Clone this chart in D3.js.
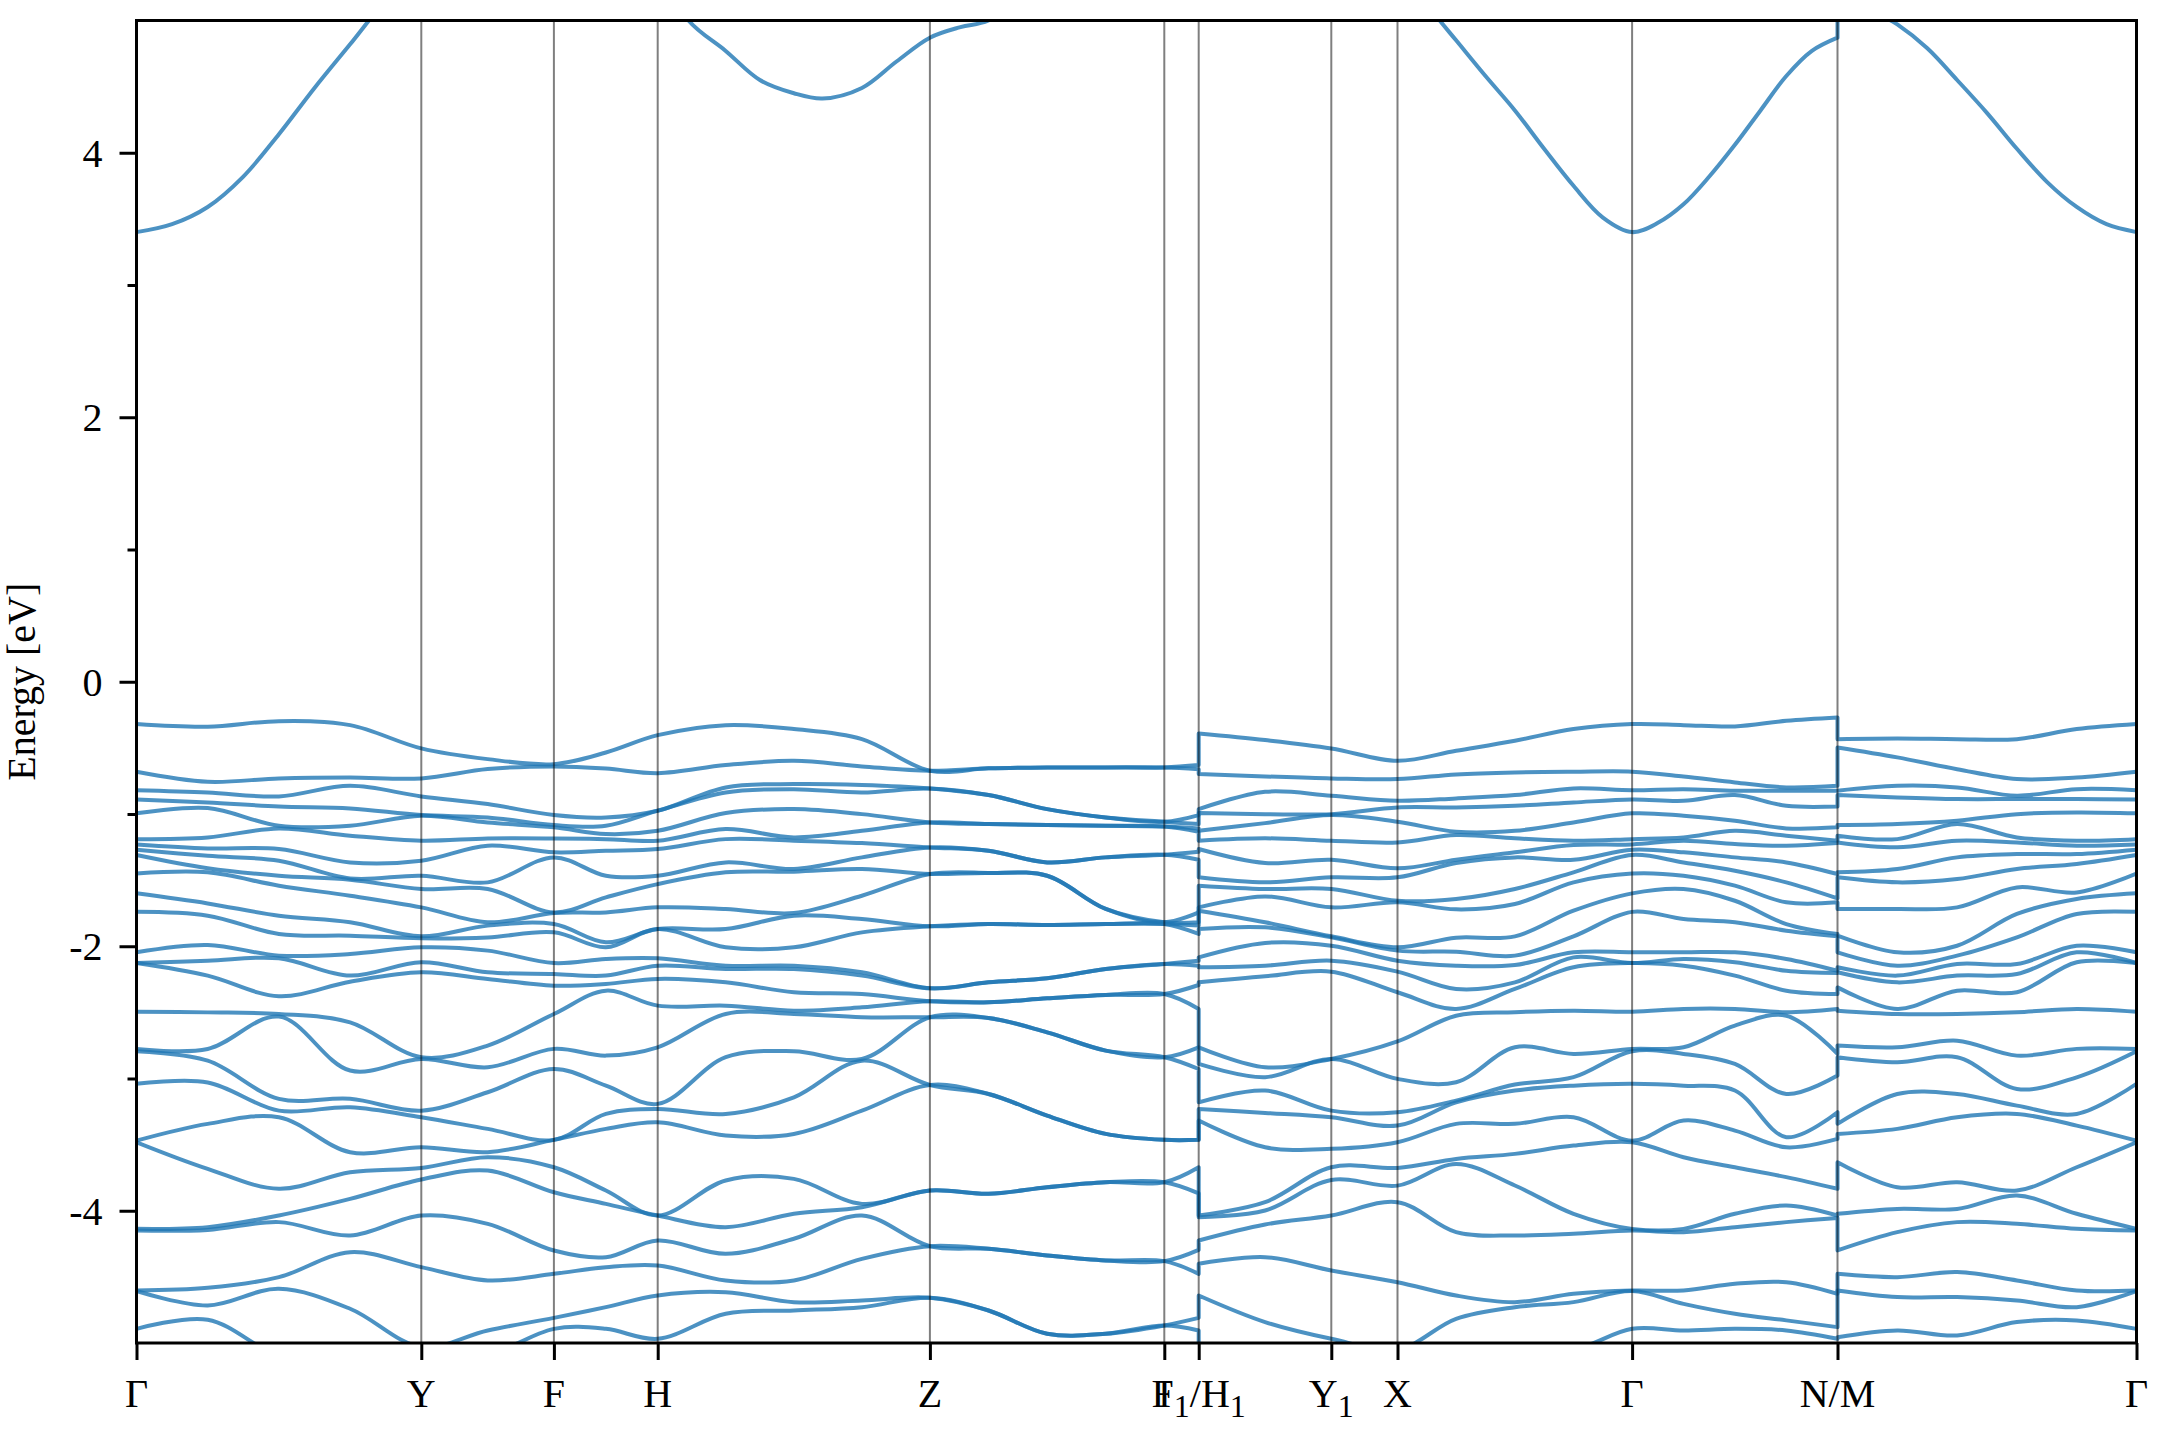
<!DOCTYPE html>
<html><head><meta charset="utf-8">
<script src="https://cdn.jsdelivr.net/npm/d3@7"></script>
<style>html,body{margin:0;padding:0;background:#fff;} svg{display:block;}</style>
</head><body>
<svg id="chart" width="2160" height="1440"></svg>
<script>
// ---- high-symmetry path ----
const kTicks = [0, 0.1424, 0.2087, 0.2606, 0.3967, 0.5139, 0.5311, 0.5974, 0.6305, 0.7478, 0.8505, 1.0];
const tickLabels = ["Γ", "Y", "F", "H", "Z", "I", "F_1/H_1", "Y_1", "X", "Γ", "N/M", "Γ"];
const yMajor = [-4, -2, 0, 2, 4];
const yMinor = [-3, -1, 1, 3];

// k samples of the three continuous branches
const kA = [0, 0.0356, 0.0712, 0.1068, 0.1424, 0.1756, 0.2087, 0.2347, 0.2606, 0.2946, 0.3287, 0.3627, 0.3967, 0.4260, 0.4553, 0.4846, 0.5139, 0.5311];
const kB = [0.5311, 0.5643, 0.5974, 0.6305, 0.6598, 0.6892, 0.7185, 0.7478, 0.7735, 0.7992, 0.8249, 0.8505];
const kC = [0.8505, 0.8804, 0.9103, 0.9402, 0.9701, 1.0];

// valence band energies (eV), one list per k sample, bands from top to bottom
const gammaE = [-0.32, -0.68, -0.82, -0.89, -0.995, -1.19, -1.23, -1.27, -1.31, -1.45, -1.60, -1.74, -2.045, -2.127, -2.127, -2.495, -2.777, -2.794, -3.04, -3.47, -3.482, -4.137, -4.15, -4.603, -4.607, -4.893];

const valA = [
  gammaE,
  [-0.34, -0.756, -0.837, -0.913, -0.955, -1.177, -1.26, -1.316, -1.41, -1.441, -1.676, -1.769, -1.99, -2.109, -2.222, -2.5, -2.777, -2.865, -3.03, -3.343, -3.683, -4.124, -4.145, -4.583, -4.716, -4.824],
  [-0.298, -0.731, -0.867, -0.943, -1.089, -1.109, -1.265, -1.353, -1.467, -1.542, -1.769, -1.907, -2.071, -2.091, -2.378, -2.512, -2.532, -3.154, -3.243, -3.293, -3.834, -4.036, -4.086, -4.502, -4.59, -5.1],
  [-0.328, -0.724, -0.787, -0.958, -1.089, -1.164, -1.366, -1.487, -1.497, -1.618, -1.819, -1.92, -2.059, -2.222, -2.268, -2.575, -2.94, -3.154, -3.217, -3.557, -3.709, -3.91, -4.187, -4.313, -4.741, -5.2],
  [-0.504, -0.731, -0.867, -1.008, -1.013, -1.202, -1.353, -1.467, -1.567, -1.706, -1.925, -1.94, -2.008, -2.121, -2.197, -2.839, -2.852, -3.243, -3.293, -3.52, -3.676, -3.764, -4.036, -4.426, -5.03, -5.2],
  [-0.585, -0.66, -0.925, -1.026, -1.064, -1.185, -1.24, -1.517, -1.567, -1.819, -1.844, -1.933, -2.033, -2.197, -2.247, -2.751, -2.915, -3.104, -3.381, -3.557, -3.595, -3.696, -4.099, -4.527, -4.905, -5.1],
  [-0.623, -0.64, -1.008, -1.084, -1.101, -1.185, -1.29, -1.328, -1.744, -1.749, -1.832, -1.895, -2.127, -2.21, -2.298, -2.512, -2.776, -2.928, -3.464, -3.464, -3.671, -3.86, -4.301, -4.477, -4.81, -4.893],
  [-0.535, -0.656, -1.026, -1.089, -1.152, -1.19, -1.278, -1.467, -1.63, -1.744, -1.97, -2.008, -2.096, -2.222, -2.285, -2.336, -2.827, -3.054, -3.268, -3.381, -3.847, -3.948, -4.351, -4.427, -4.729, -4.893],
  [-0.404, -0.691, -0.975, -0.975, -1.127, -1.202, -1.265, -1.467, -1.53, -1.706, -1.87, -1.87, -2.091, -2.147, -2.247, -2.449, -2.764, -3.192, -3.23, -3.331, -4.036, -4.036, -4.225, -4.414, -4.641, -4.968],
  [-0.328, -0.63, -0.799, -0.837, -0.993, -1.114, -1.19, -1.366, -1.441, -1.718, -1.87, -2.008, -2.147, -2.172, -2.273, -2.449, -2.512, -2.839, -3.268, -3.431, -3.771, -4.124, -4.326, -4.527, -4.616, -4.779],
  [-0.358, -0.598, -0.774, -0.812, -0.963, -1.177, -1.202, -1.416, -1.436, -1.749, -1.769, -2.008, -2.147, -2.172, -2.348, -2.487, -2.512, -2.794, -3.142, -3.419, -3.759, -4.023, -4.212, -4.527, -4.691, -4.754],
  [-0.434, -0.64, -0.781, -0.837, -1.001, -1.127, -1.22, -1.328, -1.416, -1.618, -1.794, -1.895, -2.197, -2.222, -2.361, -2.462, -2.537, -2.852, -2.865, -3.243, -3.948, -3.973, -4.036, -4.364, -4.678, -4.729],
  [-0.673, -0.673, -0.807, -0.807, -1.064, -1.064, -1.253, -1.253, -1.454, -1.454, -1.849, -1.849, -2.318, -2.318, -2.416, -2.416, -2.537, -2.537, -3.049, -3.049, -3.847, -3.847, -4.268, -4.268, -4.658, -4.658],
  [-0.655, -0.655, -0.857, -0.857, -1.076, -1.076, -1.278, -1.278, -1.446, -1.446, -1.832, -1.832, -2.273, -2.273, -2.424, -2.424, -2.542, -2.542, -3.117, -3.117, -3.872, -3.872, -4.288, -4.288, -4.754, -4.754],
  [-0.648, -0.648, -0.963, -0.963, -1.084, -1.084, -1.366, -1.366, -1.467, -1.467, -1.839, -1.839, -2.242, -2.242, -2.394, -2.394, -2.651, -2.651, -3.28, -3.28, -3.822, -3.822, -4.338, -4.338, -4.93, -4.93],
  [-0.648, -0.648, -1.026, -1.026, -1.089, -1.089, -1.328, -1.328, -1.718, -1.718, -1.832, -1.832, -2.172, -2.172, -2.368, -2.368, -2.789, -2.789, -3.419, -3.419, -3.784, -3.784, -4.376, -4.376, -4.93, -4.93],
  [-0.648, -0.648, -1.059, -1.059, -1.094, -1.094, -1.308, -1.308, -1.819, -1.819, -1.832, -1.832, -2.134, -2.134, -2.361, -2.361, -2.839, -2.839, -3.464, -3.464, -3.784, -3.784, -4.381, -4.381, -4.867, -4.867],
  [-0.63, -0.661, -1.008, -1.076, -1.109, -1.134, -1.285, -1.346, -1.744, -1.819, -1.844, -1.907, -2.109, -2.147, -2.293, -2.474, -2.764, -2.928, -3.464, -3.464, -3.671, -3.868, -4.296, -4.477, -4.81, -4.905]
];

const valB = [
  [-0.391, -0.698, -0.963, -0.993, -1.127, -1.202, -1.265, -1.479, -1.542, -1.706, -1.731, -1.869, -2.084, -2.159, -2.273, -2.764, -2.89, -3.18, -3.23, -3.318, -4.036, -4.049, -4.225, -4.401, -4.641, -5.1],
  [-0.441, -0.716, -0.832, -1.001, -1.069, -1.184, -1.371, -1.517, -1.567, -1.623, -1.819, -1.857, -1.975, -2.147, -2.227, -2.915, -2.99, -3.091, -3.26, -3.52, -3.935, -3.998, -4.104, -4.351, -4.842, -5.1],
  [-0.504, -0.731, -0.862, -1.001, -1.008, -1.202, -1.346, -1.479, -1.567, -1.706, -1.925, -1.933, -1.996, -2.109, -2.192, -2.852, -2.852, -3.243, -3.293, -3.532, -3.671, -3.767, -4.036, -4.452, -4.968, -5.2],
  [-0.598, -0.736, -0.9, -0.95, -1.059, -1.215, -1.411, -1.479, -1.656, -1.668, -2.008, -2.033, -2.109, -2.192, -2.348, -2.719, -3.003, -3.255, -3.356, -3.482, -3.676, -3.81, -3.935, -4.54, -5.05, -5.2],
  [-0.522, -0.701, -0.882, -0.95, -1.134, -1.159, -1.346, -1.371, -1.643, -1.721, -1.935, -2.041, -2.147, -2.323, -2.474, -2.525, -3.028, -3.167, -3.18, -3.343, -3.608, -3.646, -4.162, -4.641, -4.817, -5.05],
  [-0.446, -0.686, -0.857, -0.938, -1.127, -1.184, -1.29, -1.328, -1.567, -1.681, -1.925, -2.071, -2.142, -2.273, -2.323, -2.499, -2.764, -3.046, -3.091, -3.343, -3.57, -3.809, -4.187, -4.691, -4.729, -5.05],
  [-0.358, -0.681, -0.807, -0.913, -1.064, -1.202, -1.235, -1.346, -1.441, -1.517, -1.731, -1.925, -2.046, -2.084, -2.159, -2.487, -2.814, -2.99, -3.054, -3.293, -3.507, -4.023, -4.174, -4.628, -4.691, -5.05],
  gammaE,
  [-0.328, -0.716, -0.812, -0.9, -1.013, -1.177, -1.202, -1.29, -1.366, -1.467, -1.567, -1.794, -2.046, -2.096, -2.147, -2.474, -2.764, -2.814, -3.054, -3.318, -3.595, -4.137, -4.162, -4.603, -4.704, -4.905],
  [-0.338, -0.761, -0.824, -0.857, -1.051, -1.127, -1.227, -1.328, -1.429, -1.542, -1.656, -1.819, -2.046, -2.121, -2.222, -2.474, -2.6, -2.89, -3.091, -3.394, -3.671, -4.023, -4.124, -4.552, -4.779, -4.893],
  [-0.295, -0.799, -0.824, -0.938, -1.109, -1.164, -1.24, -1.366, -1.517, -1.668, -1.832, -1.882, -2.096, -2.185, -2.336, -2.499, -2.525, -3.117, -3.444, -3.52, -3.746, -3.96, -4.086, -4.54, -4.829, -4.905],
  [-0.27, -0.787, -0.824, -0.943, -1.101, -1.202, -1.22, -1.454, -1.638, -1.668, -1.907, -1.925, -2.185, -2.202, -2.361, -2.474, -2.814, -2.978, -3.255, -3.457, -3.834, -4.036, -4.054, -4.628, -4.88, -4.968]
];

const valC = [
  [-0.434, -0.497, -0.824, -0.857, -1.084, -1.164, -1.215, -1.441, -1.479, -1.718, -1.92, -2.046, -2.159, -2.197, -2.311, -2.487, -2.751, -2.839, -3.343, -3.419, -3.633, -4.023, -4.3, -4.477, -4.603, -4.956],
  [-0.429, -0.572, -0.787, -0.875, -1.076, -1.19, -1.252, -1.416, -1.517, -1.718, -2.046, -2.147, -2.222, -2.273, -2.474, -2.512, -2.764, -2.877, -3.117, -3.381, -3.822, -3.986, -4.162, -4.502, -4.653, -4.905],
  [-0.434, -0.661, -0.799, -0.887, -1.051, -1.076, -1.202, -1.328, -1.492, -1.706, -1.996, -2.071, -2.134, -2.222, -2.336, -2.512, -2.714, -2.839, -3.117, -3.293, -3.784, -3.986, -4.086, -4.464, -4.653, -4.943],
  [-0.434, -0.736, -0.862, -0.887, -1.001, -1.177, -1.215, -1.303, -1.416, -1.555, -1.756, -1.933, -2.134, -2.21, -2.348, -2.499, -2.827, -3.079, -3.205, -3.268, -3.847, -3.885, -4.099, -4.527, -4.678, -4.842],
  [-0.358, -0.724, -0.812, -0.887, -0.988, -1.202, -1.24, -1.303, -1.378, -1.593, -1.643, -1.756, -1.996, -2.046, -2.121, -2.474, -2.776, -2.991, -3.268, -3.356, -3.671, -4.023, -4.137, -4.603, -4.729, -4.829],
  gammaE
];

// lowest conduction band
const condKA = [0, 0.0178, 0.0356, 0.0534, 0.0712, 0.089, 0.1068, 0.1246, 0.1424, 0.2087, 0.2606, 0.276, 0.2946, 0.3117, 0.3287, 0.343, 0.3627, 0.38, 0.3967, 0.412, 0.426, 0.4553, 0.5311];
const condEA = [3.4, 3.46, 3.59, 3.82, 4.14, 4.49, 4.82, 5.15, 5.4, 5.8, 5.4, 5.0, 4.77, 4.55, 4.45, 4.41, 4.49, 4.69, 4.87, 4.95, 5.0, 5.3, 5.8];
const condKB = [0.5311, 0.5974, 0.6305, 0.6516, 0.6598, 0.6745, 0.6892, 0.7038, 0.7185, 0.7332, 0.7478, 0.7607, 0.7735, 0.7864, 0.7992, 0.812, 0.8249, 0.8377, 0.8505];
const condEB = [6.0, 5.9, 5.4, 5.0, 4.85, 4.58, 4.32, 4.03, 3.75, 3.51, 3.4, 3.47, 3.61, 3.82, 4.06, 4.32, 4.58, 4.77, 4.87];
const condKC = [0.8505, 0.8654, 0.8804, 0.8954, 0.9103, 0.9253, 0.9402, 0.9552, 0.9701, 0.985, 1.0];
const condEC = [5.3, 5.1, 4.97, 4.79, 4.55, 4.30, 4.03, 3.78, 3.59, 3.46, 3.4];

// ---- drawing ----
const FONT = "'Liberation Serif','Times New Roman',Times,serif";
const svg = d3.select("#chart");
const plot = {left: 136.5, right: 2136.5, top: 20.5, bottom: 1343};
const x = d3.scaleLinear().domain([0, 1]).range([plot.left, plot.right]);
const y = d3.scaleLinear().domain([-5, 5]).range([plot.bottom, plot.top]);

svg.append("rect").attr("width", 2160).attr("height", 1440).attr("fill", "#fff");
svg.append("defs").append("clipPath").attr("id", "clip")
  .append("rect").attr("x", plot.left).attr("y", plot.top)
  .attr("width", plot.right - plot.left).attr("height", plot.bottom - plot.top);

const line = d3.line().x(d => x(d[0])).y(d => y(d[1])).curve(d3.curveCatmullRom.alpha(0.5));
function joinBranches(branches) {
  return branches.map((pts, i) => { const s = line(pts); return i ? s.replace(/^M/, "L") : s; }).join("");
}

const gBands = svg.append("g").attr("clip-path", "url(#clip)");
const nBands = gammaE.length;
const bandPaths = d3.range(nBands).map(b => joinBranches([
  kA.map((k, i) => [k, valA[i][b]]),
  kB.map((k, i) => [k, valB[i][b]]),
  kC.map((k, i) => [k, valC[i][b]])
]));
bandPaths.push(joinBranches([
  condKA.map((k, i) => [k, condEA[i]]),
  condKB.map((k, i) => [k, condEB[i]]),
  condKC.map((k, i) => [k, condEC[i]])
]));

gBands.selectAll("path.band").data(bandPaths).join("path")
  .attr("class", "band").attr("d", d => d)
  .attr("fill", "none").attr("stroke", "#1f77b4").attr("stroke-opacity", 0.8)
  .attr("stroke-width", 4).attr("stroke-linejoin", "round");

// high-symmetry verticals
svg.append("g").selectAll("line").data(kTicks.slice(1, -1)).join("line")
  .attr("x1", d => x(d)).attr("x2", d => x(d))
  .attr("y1", plot.top).attr("y2", plot.bottom)
  .attr("stroke", "#000").attr("stroke-opacity", 0.5).attr("stroke-width", 2);

// frame
svg.append("rect").attr("x", plot.left).attr("y", plot.top)
  .attr("width", plot.right - plot.left).attr("height", plot.bottom - plot.top)
  .attr("fill", "none").attr("stroke", "#000").attr("stroke-width", 3);

// x axis ticks
const gx = svg.append("g").attr("transform", `translate(0,${plot.bottom})`)
  .call(d3.axisBottom(x).tickValues(kTicks).tickSize(17).tickFormat(""));
gx.select(".domain").remove();
gx.selectAll("line").attr("stroke", "#000").attr("stroke-width", 3);

// x labels with subscripts
const xl = svg.append("g").attr("font-family", FONT).attr("font-size", 40).attr("fill", "#000");
kTicks.forEach((k, i) => {
  const t = xl.append("text").attr("x", x(k)).attr("y", 1407).attr("text-anchor", "middle");
  const parts = tickLabels[i].split(/(_\d)/).filter(s => s.length);
  let sub = false;
  parts.forEach(p => {
    if (p[0] === "_") {
      t.append("tspan").attr("font-size", 32).attr("dy", 10).text(p.slice(1));
      sub = true;
    } else {
      const ts = t.append("tspan").text(p);
      if (sub) { ts.attr("dy", -10); sub = false; }
    }
  });
});

// y axis
const fmt = d => d < 0 ? "-" + (-d) : String(d);
const gy = svg.append("g").attr("transform", `translate(${plot.left},0)`)
  .call(d3.axisLeft(y).tickValues(yMajor).tickSize(17).tickPadding(17).tickFormat(fmt));
gy.select(".domain").remove();
gy.selectAll("line").attr("stroke", "#000").attr("stroke-width", 3);
gy.selectAll("text").attr("font-family", FONT).attr("font-size", 40).attr("fill", "#000").attr("dy", "0.34em");
const gy2 = svg.append("g").attr("transform", `translate(${plot.left},0)`)
  .call(d3.axisLeft(y).tickValues(yMinor).tickSize(9).tickFormat(""));
gy2.select(".domain").remove();
gy2.selectAll("line").attr("stroke", "#000").attr("stroke-width", 3);

svg.append("text").attr("transform", `translate(35,${y(0)}) rotate(-90)`)
  .attr("text-anchor", "middle").attr("font-family", FONT).attr("font-size", 40)
  .attr("fill", "#000").text("Energy [eV]");
</script>
</body></html>
